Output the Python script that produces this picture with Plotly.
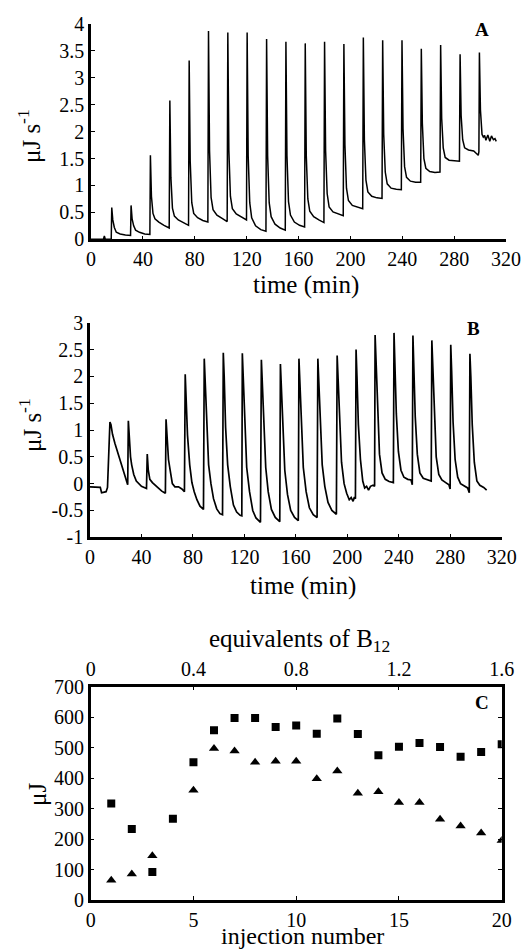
import plotly.graph_objects as go

# ---------------- Panel A : thermogram (time in min, signal in uJ/s) ----------------
a_time = [0, 9.6, 10.3, 11.0, 15.6,
          16.0, 16.8, 18.0, 19.5, 22.5, 26.5, 30.5,
          30.9, 31.7, 32.9, 34.4, 37.4, 41.4, 45.4,
          45.8, 46.6, 47.8, 49.3, 52.3, 56.3, 60.3,
          60.8, 61.6, 62.8, 64.3, 67.3, 71.3, 75.2,
          75.7, 76.5, 77.7, 79.2, 82.2, 86.2, 90.1,
          90.6, 91.4, 92.6, 94.1, 97.1, 101.1, 105.0,
          105.5, 106.3, 107.5, 109.0, 112.0, 116.0, 119.9,
          120.4, 121.2, 122.4, 123.9, 126.9, 130.9, 134.9,
          135.4, 136.2, 137.4, 138.9, 141.9, 145.9, 149.8,
          150.3, 151.1, 152.3, 153.8, 156.8, 160.8, 164.7,
          165.2, 166.0, 167.2, 168.7, 171.7, 175.7, 179.6,
          180.1, 180.9, 182.1, 183.6, 186.6, 190.6, 194.5,
          195.0, 195.8, 197.0, 198.5, 201.5, 205.5, 209.5,
          210.0, 210.8, 212.0, 213.5, 216.5, 220.5, 224.4,
          224.9, 225.7, 226.9, 228.4, 231.4, 235.4, 239.3,
          239.8, 240.6, 241.8, 243.3, 246.3, 250.3, 254.2,
          254.7, 255.5, 256.7, 258.2, 261.2, 265.2, 269.1,
          269.6, 270.4, 271.6, 273.1, 276.1, 280.1, 284.1,
          284.6, 285.4, 286.6, 288.1, 291.1, 295.1, 297.8, 298.6, 299.1,
          299.5, 300.3, 301.5, 302.5, 303.5, 304.5, 306.0, 307.5, 308.8, 310.3, 311.5, 312.5]
a_signal = [0, 0, 0.06, 0.0, 0.0,
            0.59, 0.36, 0.22, 0.13, 0.10, 0.08, 0.07,
            0.63, 0.38, 0.25, 0.17, 0.13, 0.10, 0.09,
            1.56, 0.80, 0.48, 0.38, 0.32, 0.26, 0.21,
            2.58, 1.15, 0.58, 0.43, 0.36, 0.31, 0.26,
            3.32, 1.45, 0.68, 0.48, 0.40, 0.35, 0.32,
            3.87, 1.65, 0.78, 0.55, 0.45, 0.39, 0.33,
            3.84, 1.65, 0.80, 0.57, 0.47, 0.42, 0.36,
            3.84, 1.55, 0.68, 0.40, 0.25, 0.18, 0.15,
            3.72, 1.55, 0.68, 0.42, 0.28, 0.21, 0.17,
            3.67, 1.55, 0.70, 0.45, 0.32, 0.26, 0.23,
            3.64, 1.55, 0.75, 0.52, 0.42, 0.36, 0.31,
            3.67, 1.65, 0.85, 0.60, 0.51, 0.47, 0.44,
            3.63, 1.75, 0.95, 0.72, 0.63, 0.60, 0.57,
            3.75, 1.85, 1.10, 0.88, 0.80, 0.77, 0.76,
            3.70, 1.95, 1.25, 1.03, 0.95, 0.93, 0.92,
            3.70, 2.05, 1.35, 1.15, 1.08, 1.06, 1.06,
            3.54, 2.15, 1.50, 1.32, 1.26, 1.24, 1.25,
            3.61, 2.25, 1.70, 1.52, 1.47, 1.46, 1.45,
            3.44, 2.30, 1.85, 1.70, 1.66, 1.64, 1.58, 1.56, 1.63,
            3.47, 2.40, 1.95, 1.90, 1.93, 1.84, 1.94, 1.82, 1.92, 1.85, 1.87, 1.82]

# ---------------- Panel B : thermogram ----------------
b_time = [0, 8.0, 9.0, 12.5, 13.6, 14.3, 15.0,
          15.5, 16.3, 17.5, 19.4, 21.5, 23.3, 25.5, 27.2, 28.5, 29.3,
          29.8, 30.6, 31.5, 32.4, 34.0, 36.0, 40.0, 43.9,
          44.5, 45.3, 46.5, 48.5, 50.6, 53.0, 55.8, 58.6,
          59.1, 59.9, 61.0, 62.3, 64.0, 66.0, 68.8, 71.4, 73.4,
          74.0, 74.7, 75.8, 77.5, 79.2, 81.0, 83.1, 85.5, 88.2,
          88.8, 89.5, 90.6, 92.2, 94.0, 96.0, 98.5, 101.0, 103.0,
          103.6, 104.3, 105.4, 107.0, 109.0, 111.5, 114.0, 116.7, 118.0,
          118.4, 119.1, 120.2, 121.8, 124.0, 126.5, 129.0, 132.5,
          133.2, 133.9, 135.0, 136.6, 138.5, 141.0, 144.0, 147.5,
          148.0, 148.7, 149.8, 151.4, 153.5, 156.0, 159.0, 161.9,
          162.4, 163.1, 164.2, 165.8, 168.0, 170.5, 173.5, 176.5,
          177.1, 177.8, 178.9, 180.5, 182.5, 185.0, 188.0, 191.5,
          192.1, 192.8, 193.9, 195.5, 197.5, 199.5, 201.5, 203.0, 204.5, 205.5, 206.3,
          206.8, 207.5, 208.6, 210.2, 212.0, 213.5, 215.0, 216.5, 218.0, 220.0, 221.2,
          221.6, 222.3, 223.4, 225.0, 227.0, 229.5, 232.5, 235.8,
          236.3, 237.0, 238.1, 239.7, 241.7, 244.0, 247.0, 249.5, 250.5,
          251.0, 251.7, 252.8, 254.4, 256.4, 259.0, 262.0, 265.2,
          265.7, 266.4, 267.5, 269.1, 271.1, 273.5, 276.5, 279.0, 279.9,
          280.4, 281.1, 282.2, 283.8, 285.8, 288.0, 291.0, 293.5, 294.8,
          295.3, 296.0, 297.1, 298.7, 300.7, 303.0, 306.0, 308.3]
b_signal = [-0.06, -0.07, -0.17, -0.15, -0.07, 0.40, 0.90,
            1.15, 1.10, 0.92, 0.75, 0.58, 0.44, 0.27, 0.13, 0.00, -0.02,
            1.17, 0.80, 0.50, 0.35, 0.17, 0.05, -0.05, -0.09,
            0.55, 0.25, 0.08, 0.02, -0.02, -0.08, -0.14, -0.18,
            1.20, 0.80, 0.45, 0.25, 0.00, -0.06, -0.06, -0.10, -0.15,
            2.04, 1.60, 0.90, 0.35, 0.02, -0.15, -0.30, -0.42, -0.48,
            2.33, 1.90, 1.00, 0.35, 0.00, -0.28, -0.47, -0.56, -0.58,
            2.44, 2.00, 1.05, 0.35, -0.05, -0.40, -0.53, -0.59, -0.60,
            2.43, 2.00, 1.00, 0.30, -0.15, -0.50, -0.64, -0.72,
            2.31, 1.90, 0.95, 0.30, -0.15, -0.48, -0.63, -0.71,
            2.23, 1.80, 0.90, 0.25, -0.20, -0.50, -0.63, -0.69,
            2.33, 1.90, 1.00, 0.30, -0.15, -0.45, -0.58, -0.63,
            2.33, 1.90, 1.00, 0.35, -0.05, -0.35, -0.50, -0.57,
            2.39, 1.95, 1.05, 0.40, 0.00, -0.18, -0.30, -0.26, -0.33, -0.25, -0.28,
            2.50, 2.00, 1.10, 0.45, 0.05, -0.08, -0.05, -0.12, -0.05, -0.03, -0.05,
            2.77, 2.30, 1.30, 0.55, 0.20, 0.08, 0.04, 0.02,
            2.81, 2.30, 1.30, 0.60, 0.25, 0.12, 0.08, 0.07, -0.02,
            2.76, 2.25, 1.25, 0.55, 0.20, 0.10, 0.07, 0.05,
            2.67, 2.20, 1.20, 0.50, 0.17, 0.07, 0.02, -0.02, -0.10,
            2.59, 2.10, 1.15, 0.45, 0.12, 0.00, -0.05, -0.08, -0.17,
            2.42, 2.00, 1.10, 0.40, 0.05, -0.03, -0.07, -0.12]

# ---------------- Panel C : integrated heats ----------------
c_injection = [1, 2, 3, 4, 5, 6, 7, 8, 9, 10, 11, 12, 13, 14, 15, 16, 17, 18, 19, 20]
c_squares = [317, 233, 92, 267, 452, 557, 597, 597, 568, 573, 546, 596, 545, 475, 503, 515, 502, 470, 486, 511]
c_triangles = [65, 85, 145, None, 360, 497, 489, 452, 455, 455, 398, 423, 350, 355, 320, 320, 265, 243, 220, 195]

time_ticks = [0, 40, 80, 120, 160, 200, 240, 280, 320]
a_yticks = [0, 0.5, 1, 1.5, 2, 2.5, 3, 3.5, 4]
a_ytext = ["0", "0.5", "1", "1.5", "2", "2.5", "3", "3.5", "4"]
b_yticks = [-1, -0.5, 0, 0.5, 1, 1.5, 2, 2.5, 3]
b_ytext = ["-1", "-0.5", "0", "0.5", "1", "1.5", "2", "2.5", "3"]
c_xticks = [0, 5, 10, 15, 20]
c_yticks = [0, 100, 200, 300, 400, 500, 600, 700]
c_top_ticks = [0, 0.4, 0.8, 1.2, 1.6]
c_top_text = ["0", "0.4", "0.8", "1.2", "1.6"]

FONT = "Liberation Serif"
W, H = 521, 950

fig = go.Figure()
fig.add_trace(go.Scatter(x=a_time, y=a_signal, mode="lines",
                         line=dict(color="black", width=1.5), xaxis="x", yaxis="y", showlegend=False))
fig.add_trace(go.Scatter(x=b_time, y=b_signal, mode="lines",
                         line=dict(color="black", width=1.7), xaxis="x2", yaxis="y2", showlegend=False))
fig.add_trace(go.Scatter(x=c_injection, y=c_squares, mode="markers",
                         marker=dict(symbol="square", size=8, color="black"),
                         xaxis="x3", yaxis="y3", showlegend=False))
fig.add_trace(go.Scatter(x=c_injection, y=c_triangles, mode="markers",
                         marker=dict(symbol="triangle-up", size=9, color="black"),
                         xaxis="x3", yaxis="y3", showlegend=False))
# invisible helper so the secondary (top) axis of panel C is drawn
fig.add_trace(go.Scatter(x=c_top_ticks[:1], y=c_yticks[:1], mode="markers",
                         marker=dict(opacity=0, size=1), xaxis="x4", yaxis="y3",
                         showlegend=False, hoverinfo="skip"))

tickfont = dict(family=FONT, size=20, color="black")
common = dict(showgrid=False, zeroline=False, showline=True, linecolor="black", linewidth=2.5,
              ticks="inside", ticklen=4, tickwidth=1, tickcolor="black", tickfont=tickfont,
              automargin=False, ticklabeloverflow="allow")

def ann(text, x, y, angle=0, size=25, bold=False):
    return dict(text=f"<b>{text}</b>" if bold else text, x=x / W, y=1 - y / H,
                xref="paper", yref="paper", showarrow=False, textangle=angle,
                xanchor="center", yanchor="middle",
                font=dict(family=FONT, size=size, color="black"))

fig.update_layout(
    width=W, height=H, margin=dict(l=0, r=0, t=0, b=0, autoexpand=False),
    paper_bgcolor="white", plot_bgcolor="white",
    xaxis=dict(domain=[91 / W, 506 / W], range=[0, 320], tickvals=time_ticks, anchor="y", **common),
    yaxis=dict(domain=[1 - 239.3 / H, 1 - 24 / H], range=[0, 4], tickvals=a_yticks, ticktext=a_ytext,
               anchor="x", **common),
    xaxis2=dict(domain=[90 / W, 501.7 / W], range=[0, 320], tickvals=time_ticks, anchor="y2", **common),
    yaxis2=dict(domain=[1 - 537.3 / H, 1 - 322.7 / H], range=[-1, 3], tickvals=b_yticks, ticktext=b_ytext,
                anchor="x2", **common),
    xaxis3=dict(domain=[90.7 / W, 501.7 / W], range=[0, 20], tickvals=c_xticks, anchor="y3", **common),
    xaxis4=dict(overlaying="x3", side="top", range=[0, 1.6], tickvals=c_top_ticks, ticktext=c_top_text,
                anchor="y3", **common),
    yaxis3=dict(domain=[1 - 900 / H, 1 - 686.7 / H], range=[0, 700], tickvals=c_yticks, anchor="x3",
                mirror="ticks", **common),
    annotations=[
        ann("time (min)", 306, 285),
        ann("μJ s<sup>-1</sup>", 29, 136, angle=-90),
        ann("time (min)", 303, 586),
        ann("μJ s<sup>-1</sup>", 30, 425, angle=-90),
        ann("injection number", 302, 936, size=24),
        ann("equivalents of B<sub>12</sub>", 299, 640),
        ann("μJ", 37, 795, angle=-90),
        ann("A", 482, 29, size=19, bold=True),
        ann("B", 473, 329, size=19, bold=True),
        ann("C", 482, 702, size=19, bold=True),
    ],
)

fig.write_html("out.html")
